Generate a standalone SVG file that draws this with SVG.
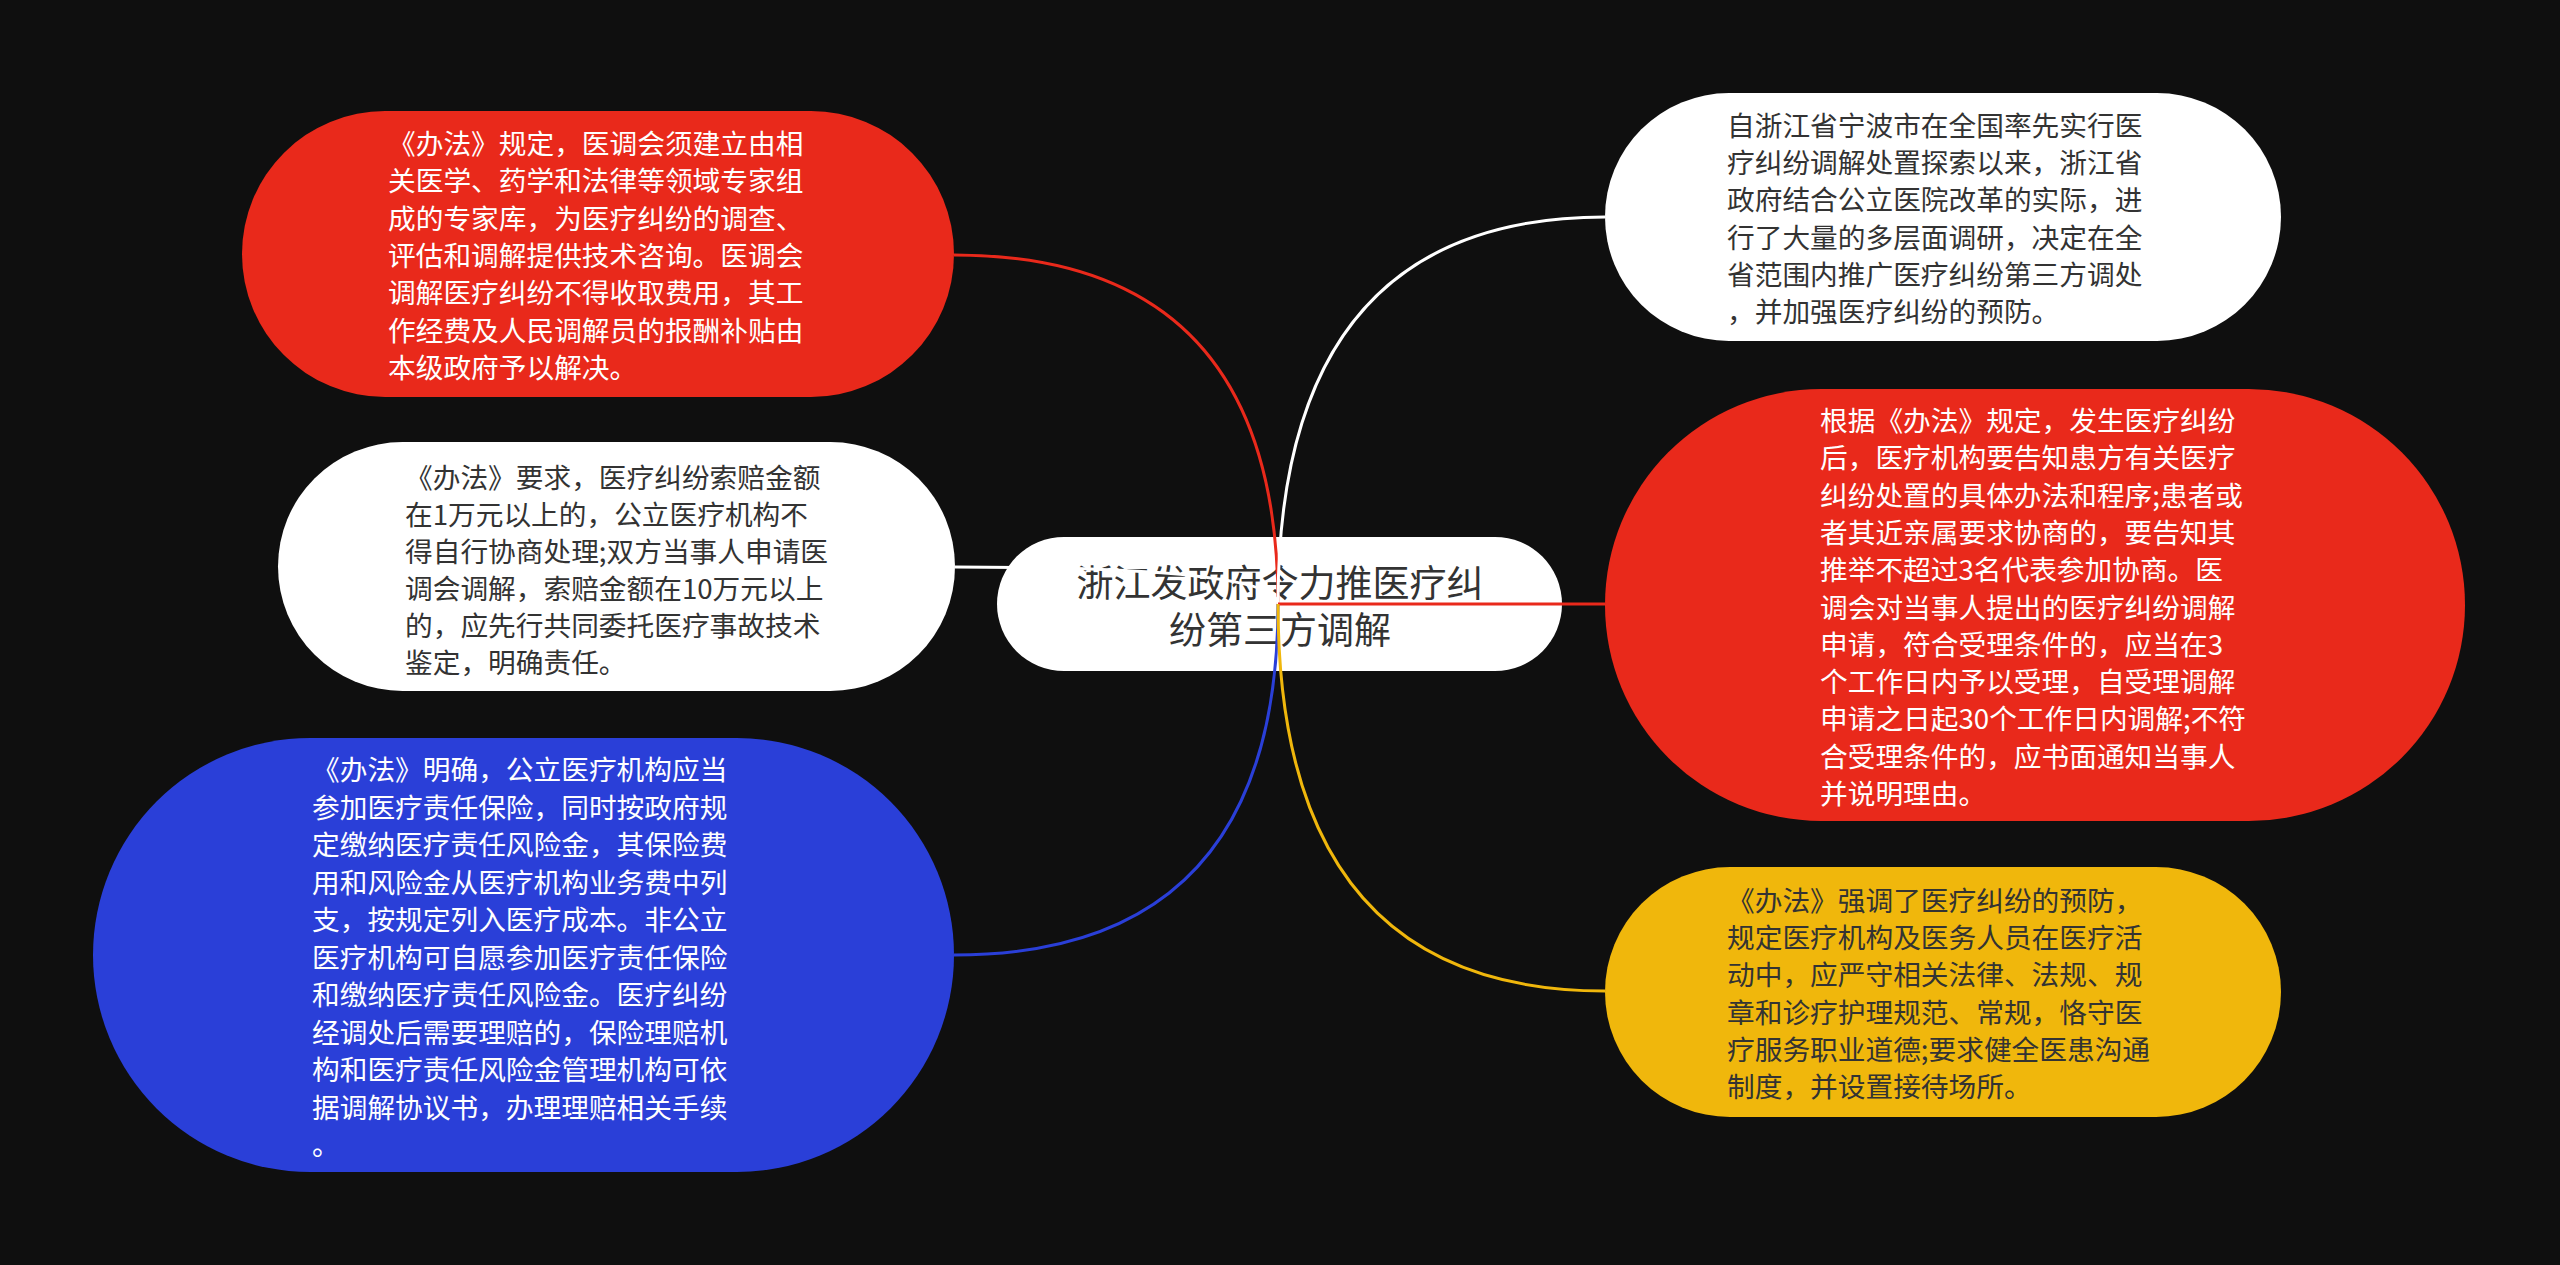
<svg xmlns="http://www.w3.org/2000/svg" width="2560" height="1265" viewBox="0 0 2560 1265">
<style>
.t{font-family:"Noto Sans CJK SC","Noto Sans",sans-serif;font-size:27.7px;dominant-baseline:central}
.w{fill:#ffffff}
.d{fill:#333333}
.c{font-family:"Liberation Sans","Noto Sans CJK SC",sans-serif;font-size:37px;fill:#333333;text-anchor:middle}
.ln{fill:none;stroke-width:3}
</style>
<rect width="2560" height="1265" fill="#0f0f0f"/>
<g id="center">
<rect x="997" y="537" width="565" height="134" rx="67" fill="#ffffff"/>
<text class="c"><tspan x="1280" y="597">浙江发政府令力推医疗纠</tspan><tspan x="1280" y="644">纷第三方调解</tspan></text>
</g>
<g id="connectors">
<path class="ln" stroke="#e9291b" d="M1278,604 Q1278,255 954,255"/>
<path class="ln" stroke="#ffffff" d="M1278,604 Q1278,567 955,567"/>
<path class="ln" stroke="#2a3fd8" d="M1278,604 Q1278,955 954,955"/>
<path class="ln" stroke="#ffffff" d="M1278,604 Q1278,217 1605,217"/>
<path class="ln" stroke="#e9291b" d="M1278,604 L1605,604"/>
<path class="ln" stroke="#f0b70c" d="M1278,604 Q1278,991 1605,991"/>
</g>
<g id="nodeA">
<rect x="242" y="111" width="712" height="286" rx="143" fill="#e9291b"/>
<text class="t w"><tspan x="388" y="142">《办法》规定，医调会须建立由相</tspan><tspan x="388" y="179.3">关医学、药学和法律等领域专家组</tspan><tspan x="388" y="216.6">成的专家库，为医疗纠纷的调查、</tspan><tspan x="388" y="253.9">评估和调解提供技术咨询。医调会</tspan><tspan x="388" y="291.2">调解医疗纠纷不得收取费用，其工</tspan><tspan x="388" y="328.5">作经费及人民调解员的报酬补贴由</tspan><tspan x="388" y="365.8">本级政府予以解决。</tspan></text>
</g>
<g id="nodeB">
<rect x="278" y="442" width="677" height="249" rx="124.5" fill="#ffffff"/>
<text class="t d"><tspan x="405" y="476">《办法》要求，医疗纠纷索赔金额</tspan><tspan x="405" y="513">在1万元以上的，公立医疗机构不</tspan><tspan x="405" y="550">得自行协商处理;双方当事人申请医</tspan><tspan x="405" y="587">调会调解，索赔金额在10万元以上</tspan><tspan x="405" y="624">的，应先行共同委托医疗事故技术</tspan><tspan x="405" y="661">鉴定，明确责任。</tspan></text>
</g>
<g id="nodeC">
<rect x="93" y="738" width="861" height="434" rx="217" fill="#2a3fd8"/>
<text class="t w"><tspan x="312" y="768">《办法》明确，公立医疗机构应当</tspan><tspan x="312" y="805.5">参加医疗责任保险，同时按政府规</tspan><tspan x="312" y="843">定缴纳医疗责任风险金，其保险费</tspan><tspan x="312" y="880.5">用和风险金从医疗机构业务费中列</tspan><tspan x="312" y="918">支，按规定列入医疗成本。非公立</tspan><tspan x="312" y="955.5">医疗机构可自愿参加医疗责任保险</tspan><tspan x="312" y="993">和缴纳医疗责任风险金。医疗纠纷</tspan><tspan x="312" y="1030.5">经调处后需要理赔的，保险理赔机</tspan><tspan x="312" y="1068">构和医疗责任风险金管理机构可依</tspan><tspan x="312" y="1105.5">据调解协议书，办理理赔相关手续</tspan><tspan x="312" y="1143">。</tspan></text>
</g>
<g id="nodeD">
<rect x="1605" y="93" width="676" height="248" rx="124" fill="#ffffff"/>
<text class="t d"><tspan x="1727" y="124">自浙江省宁波市在全国率先实行医</tspan><tspan x="1727" y="161.2">疗纠纷调解处置探索以来，浙江省</tspan><tspan x="1727" y="198.4">政府结合公立医院改革的实际，进</tspan><tspan x="1727" y="235.6">行了大量的多层面调研，决定在全</tspan><tspan x="1727" y="272.8">省范围内推广医疗纠纷第三方调处</tspan><tspan x="1727" y="310">，并加强医疗纠纷的预防。</tspan></text>
</g>
<g id="nodeE">
<rect x="1605" y="389" width="860" height="432" rx="216" fill="#e9291b"/>
<text class="t w"><tspan x="1820" y="419">根据《办法》规定，发生医疗纠纷</tspan><tspan x="1820" y="456.3">后，医疗机构要告知患方有关医疗</tspan><tspan x="1820" y="493.6">纠纷处置的具体办法和程序;患者或</tspan><tspan x="1820" y="530.9">者其近亲属要求协商的，要告知其</tspan><tspan x="1820" y="568.2">推举不超过3名代表参加协商。医</tspan><tspan x="1820" y="605.5">调会对当事人提出的医疗纠纷调解</tspan><tspan x="1820" y="642.8">申请，符合受理条件的，应当在3</tspan><tspan x="1820" y="680.1">个工作日内予以受理，自受理调解</tspan><tspan x="1820" y="717.4">申请之日起30个工作日内调解;不符</tspan><tspan x="1820" y="754.7">合受理条件的，应书面通知当事人</tspan><tspan x="1820" y="792">并说明理由。</tspan></text>
</g>
<g id="nodeF">
<rect x="1605" y="867" width="676" height="250" rx="125" fill="#f0b70c"/>
<text class="t d"><tspan x="1727" y="899">《办法》强调了医疗纠纷的预防，</tspan><tspan x="1727" y="936.2">规定医疗机构及医务人员在医疗活</tspan><tspan x="1727" y="973.4">动中，应严守相关法律、法规、规</tspan><tspan x="1727" y="1010.6">章和诊疗护理规范、常规，恪守医</tspan><tspan x="1727" y="1047.8">疗服务职业道德;要求健全医患沟通</tspan><tspan x="1727" y="1085">制度，并设置接待场所。</tspan></text>
</g>
</svg>
